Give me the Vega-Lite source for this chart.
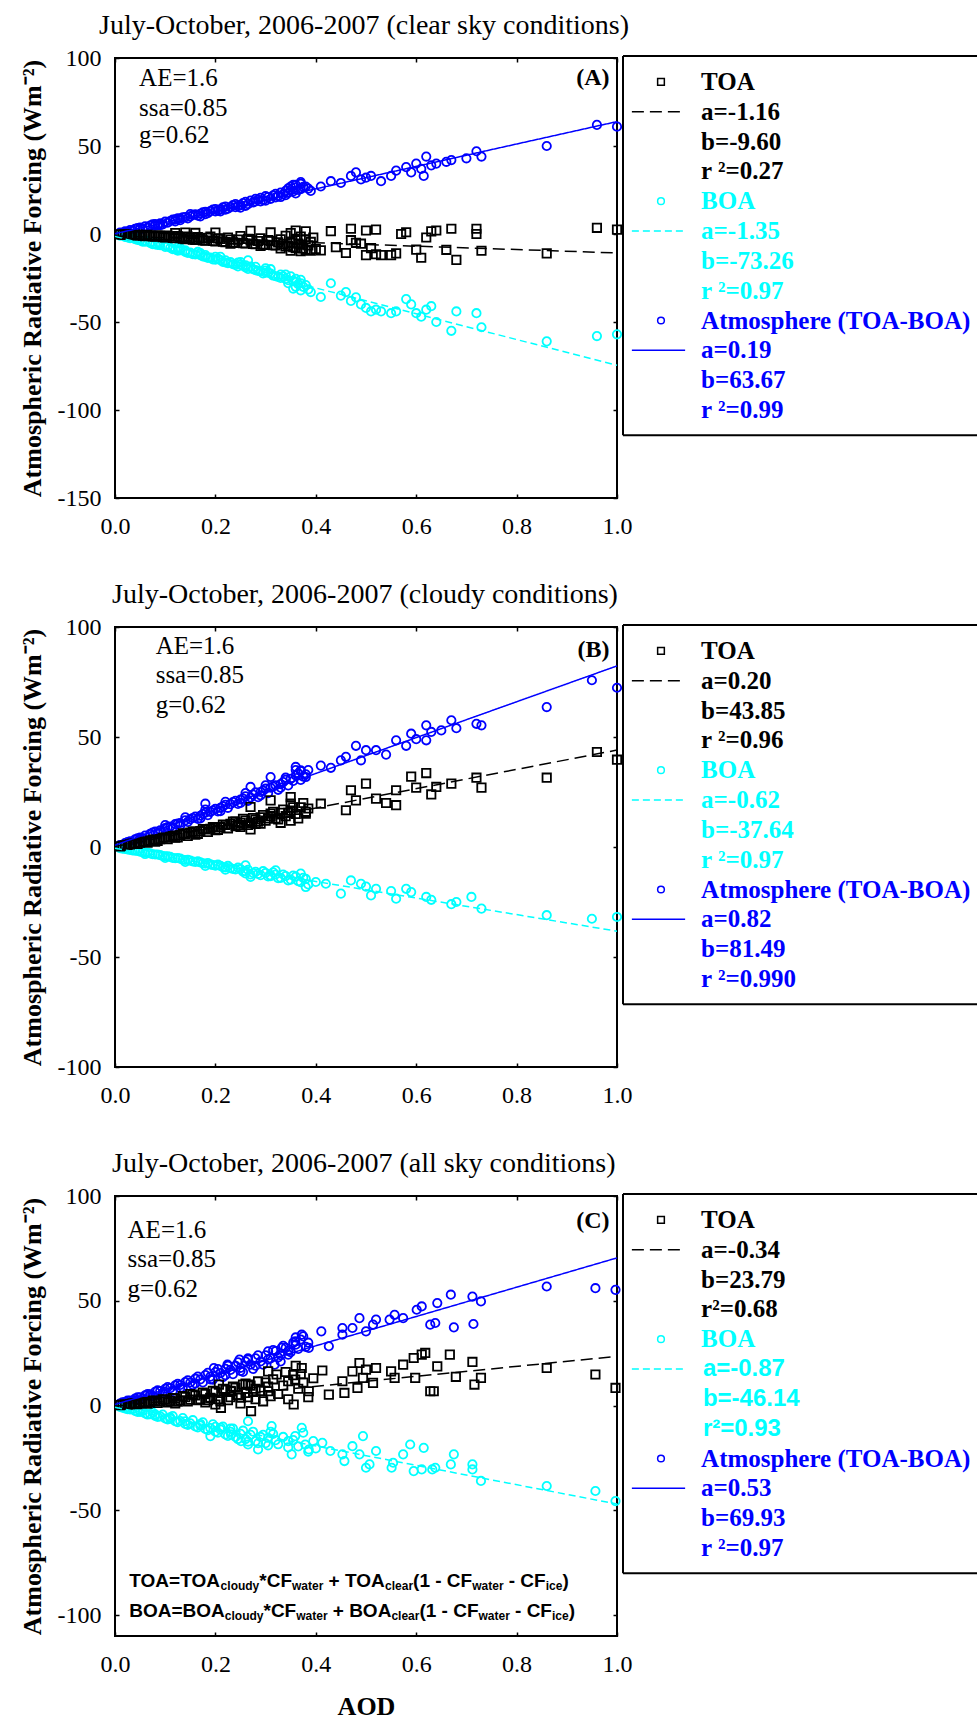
{
"$schema":"https://vega.github.io/schema/vega-lite/v6.json",
"background":"white",
"padding":{"left":18,"top":11,"right":0,"bottom":0},
"config":{
 "font":"Liberation Serif",
 "view":{"stroke":null},
 "axis":{"domain":false,"grid":false,"tickSize":-4,"tickColor":"black","tickWidth":1.5,"labelFont":"Liberation Serif","labelFontSize":24,"labelColor":"black","labelFlush":false,"labelOverlap":false,"labelBound":false,"titleFont":"Liberation Serif","titleFontSize":26,"titleFontWeight":"bold","titleColor":"black"},
 "title":{"font":"Liberation Serif","fontSize":28,"fontWeight":"normal","color":"black","anchor":"start","frame":"group","baseline":"alphabetic","offset":6},
 "point":{"filled":false,"strokeWidth":1.8,"size":70,"opacity":1}
},
"datasets":{
"ptA":[
{"g":"Atm","x":0.01,"y":0.8},{"g":"Atm","x":0.02,"y":1.5},{"g":"Atm","x":0.03,"y":2.2},{"g":"Atm","x":0.04,"y":2.9},{"g":"Atm","x":0.05,"y":3.6},{"g":"Atm","x":0.06,"y":4.3},{"g":"Atm","x":0.07,"y":4.8},{"g":"Atm","x":0.08,"y":5.6},{"g":"Atm","x":0.09,"y":6.1},{"g":"Atm","x":0.1,"y":7.0},{"g":"Atm","x":0.11,"y":7.4},{"g":"Atm","x":0.12,"y":8.3},{"g":"Atm","x":0.13,"y":8.8},{"g":"Atm","x":0.14,"y":9.6},{"g":"Atm","x":0.15,"y":10.0},{"g":"Atm","x":0.16,"y":11.2},{"g":"Atm","x":0.17,"y":11.5},{"g":"Atm","x":0.18,"y":12.6},{"g":"Atm","x":0.19,"y":13.0},{"g":"Atm","x":0.2,"y":14.2},{"g":"Atm","x":0.21,"y":14.0},{"g":"Atm","x":0.22,"y":15.6},{"g":"Atm","x":0.23,"y":15.3},{"g":"Atm","x":0.24,"y":17.0},{"g":"Atm","x":0.25,"y":16.4},{"g":"Atm","x":0.26,"y":18.3},{"g":"Atm","x":0.27,"y":19.0},{"g":"Atm","x":0.28,"y":18.5},{"g":"Atm","x":0.29,"y":20.6},{"g":"Atm","x":0.3,"y":21.5},{"g":"Atm","x":0.31,"y":20.0},{"g":"Atm","x":0.32,"y":22.8},{"g":"Atm","x":0.33,"y":23.5},{"g":"Atm","x":0.34,"y":22.0},{"g":"Atm","x":0.35,"y":25.0},{"g":"Atm","x":0.36,"y":26.5},{"g":"Atm","x":0.36,"y":23.0},{"g":"Atm","x":0.37,"y":28.5},{"g":"Atm","x":0.37,"y":25.5},{"g":"Atm","x":0.38,"y":27.0},{"g":"Atm","x":0.39,"y":24.5},
{"g":"Atm","x":0.015,"y":0.6},{"g":"Atm","x":0.035,"y":1.9},{"g":"Atm","x":0.05,"y":2.8},{"g":"Atm","x":0.065,"y":3.6},{"g":"Atm","x":0.08,"y":4.8},{"g":"Atm","x":0.095,"y":5.5},{"g":"Atm","x":0.12,"y":7.2},{"g":"Atm","x":0.135,"y":9.5},{"g":"Atm","x":0.15,"y":11.3},{"g":"Atm","x":0.165,"y":10.4},{"g":"Atm","x":0.18,"y":11.3},{"g":"Atm","x":0.2,"y":12.8},{"g":"Atm","x":0.22,"y":13.8},{"g":"Atm","x":0.24,"y":15.2},{"g":"Atm","x":0.26,"y":16.0},{"g":"Atm","x":0.28,"y":20.0},{"g":"Atm","x":0.3,"y":19.0},{"g":"Atm","x":0.33,"y":21.0},{"g":"Atm","x":0.345,"y":26.0},{"g":"Atm","x":0.355,"y":28.0},
{"g":"Atm","x":0.025,"y":1.3},{"g":"Atm","x":0.045,"y":3.4},{"g":"Atm","x":0.055,"y":3.0},{"g":"Atm","x":0.075,"y":5.5},{"g":"Atm","x":0.085,"y":5.0},{"g":"Atm","x":0.105,"y":6.4},{"g":"Atm","x":0.115,"y":8.2},{"g":"Atm","x":0.125,"y":8.9},{"g":"Atm","x":0.145,"y":8.9},{"g":"Atm","x":0.155,"y":10.8},{"g":"Atm","x":0.175,"y":12.3},{"g":"Atm","x":0.185,"y":11.8},{"g":"Atm","x":0.195,"y":13.9},{"g":"Atm","x":0.205,"y":13.3},{"g":"Atm","x":0.215,"y":15.1},{"g":"Atm","x":0.225,"y":14.4},{"g":"Atm","x":0.235,"y":16.4},{"g":"Atm","x":0.245,"y":15.8},{"g":"Atm","x":0.255,"y":17.6},{"g":"Atm","x":0.265,"y":17.0},{"g":"Atm","x":0.275,"y":18.0},{"g":"Atm","x":0.285,"y":19.6},{"g":"Atm","x":0.295,"y":19.2},{"g":"Atm","x":0.305,"y":21.0},{"g":"Atm","x":0.315,"y":22.0},{"g":"Atm","x":0.325,"y":21.5},{"g":"Atm","x":0.335,"y":22.6},{"g":"Atm","x":0.345,"y":23.4},{"g":"Atm","x":0.355,"y":24.2},{"g":"Atm","x":0.365,"y":25.0},{"g":"Atm","x":0.375,"y":26.8},{"g":"Atm","x":0.385,"y":25.8},{"g":"Atm","x":0.37,"y":29.5},{"g":"Atm","x":0.36,"y":28.0},{"g":"Atm","x":0.35,"y":27.0},{"g":"Atm","x":0.34,"y":24.5},{"g":"Atm","x":0.32,"y":20.8},{"g":"Atm","x":0.29,"y":18.5},{"g":"Atm","x":0.25,"y":15.0},{"g":"Atm","x":0.21,"y":12.8},{"g":"Atm","x":0.17,"y":10.0},{"g":"Atm","x":0.13,"y":7.8},{"g":"Atm","x":0.09,"y":5.0},
{"g":"Atm","x":0.41,"y":27},{"g":"Atm","x":0.43,"y":30},{"g":"Atm","x":0.45,"y":29},{"g":"Atm","x":0.47,"y":33},{"g":"Atm","x":0.48,"y":35},{"g":"Atm","x":0.49,"y":31},{"g":"Atm","x":0.5,"y":32},{"g":"Atm","x":0.51,"y":33},{"g":"Atm","x":0.53,"y":30},{"g":"Atm","x":0.55,"y":33},{"g":"Atm","x":0.56,"y":36},{"g":"Atm","x":0.58,"y":38},{"g":"Atm","x":0.59,"y":35},{"g":"Atm","x":0.6,"y":40},{"g":"Atm","x":0.61,"y":37},{"g":"Atm","x":0.615,"y":33},{"g":"Atm","x":0.62,"y":44},{"g":"Atm","x":0.63,"y":39},{"g":"Atm","x":0.64,"y":40},{"g":"Atm","x":0.66,"y":41},{"g":"Atm","x":0.67,"y":42},{"g":"Atm","x":0.7,"y":43},{"g":"Atm","x":0.72,"y":47},{"g":"Atm","x":0.73,"y":44},{"g":"Atm","x":0.86,"y":50},{"g":"Atm","x":0.96,"y":62},{"g":"Atm","x":1.0,"y":61},
{"g":"BOA","x":0.01,"y":-0.9},{"g":"BOA","x":0.02,"y":-1.6},{"g":"BOA","x":0.03,"y":-2.3},{"g":"BOA","x":0.04,"y":-3.0},{"g":"BOA","x":0.05,"y":-3.7},{"g":"BOA","x":0.06,"y":-4.4},{"g":"BOA","x":0.07,"y":-5.0},{"g":"BOA","x":0.08,"y":-5.9},{"g":"BOA","x":0.09,"y":-6.4},{"g":"BOA","x":0.1,"y":-7.3},{"g":"BOA","x":0.11,"y":-7.8},{"g":"BOA","x":0.12,"y":-8.8},{"g":"BOA","x":0.13,"y":-9.2},{"g":"BOA","x":0.14,"y":-10.2},{"g":"BOA","x":0.15,"y":-10.6},{"g":"BOA","x":0.16,"y":-11.6},{"g":"BOA","x":0.17,"y":-12.0},{"g":"BOA","x":0.18,"y":-13.0},{"g":"BOA","x":0.19,"y":-13.4},{"g":"BOA","x":0.2,"y":-14.6},{"g":"BOA","x":0.21,"y":-14.8},{"g":"BOA","x":0.22,"y":-16.2},{"g":"BOA","x":0.23,"y":-16.0},{"g":"BOA","x":0.24,"y":-17.6},{"g":"BOA","x":0.25,"y":-17.4},{"g":"BOA","x":0.26,"y":-19.0},{"g":"BOA","x":0.27,"y":-18.5},{"g":"BOA","x":0.28,"y":-20.5},{"g":"BOA","x":0.29,"y":-21.2},{"g":"BOA","x":0.3,"y":-22.0},{"g":"BOA","x":0.31,"y":-22.5},{"g":"BOA","x":0.32,"y":-24.0},{"g":"BOA","x":0.33,"y":-23.0},{"g":"BOA","x":0.34,"y":-25.5},{"g":"BOA","x":0.35,"y":-24.0},{"g":"BOA","x":0.36,"y":-27.0},{"g":"BOA","x":0.36,"y":-30.0},{"g":"BOA","x":0.37,"y":-26.0},{"g":"BOA","x":0.37,"y":-32.0},{"g":"BOA","x":0.38,"y":-29.0},{"g":"BOA","x":0.39,"y":-33.0},
{"g":"BOA","x":0.015,"y":-0.7},{"g":"BOA","x":0.045,"y":-2.6},{"g":"BOA","x":0.06,"y":-3.6},{"g":"BOA","x":0.085,"y":-4.8},{"g":"BOA","x":0.1,"y":-6.4},{"g":"BOA","x":0.125,"y":-7.6},{"g":"BOA","x":0.14,"y":-9.3},{"g":"BOA","x":0.165,"y":-10.2},{"g":"BOA","x":0.18,"y":-12.0},{"g":"BOA","x":0.2,"y":-13.0},{"g":"BOA","x":0.22,"y":-15.0},{"g":"BOA","x":0.245,"y":-16.2},{"g":"BOA","x":0.26,"y":-17.8},{"g":"BOA","x":0.28,"y":-18.6},{"g":"BOA","x":0.3,"y":-20.8},{"g":"BOA","x":0.33,"y":-25.0},{"g":"BOA","x":0.345,"y":-28.0},{"g":"BOA","x":0.355,"y":-31.0},{"g":"BOA","x":0.265,"y":-15.0},{"g":"BOA","x":0.31,"y":-20.0},
{"g":"BOA","x":0.025,"y":-1.9},{"g":"BOA","x":0.045,"y":-3.4},{"g":"BOA","x":0.055,"y":-4.4},{"g":"BOA","x":0.075,"y":-5.8},{"g":"BOA","x":0.085,"y":-6.2},{"g":"BOA","x":0.105,"y":-7.0},{"g":"BOA","x":0.115,"y":-8.6},{"g":"BOA","x":0.125,"y":-9.4},{"g":"BOA","x":0.145,"y":-10.8},{"g":"BOA","x":0.155,"y":-11.4},{"g":"BOA","x":0.175,"y":-12.8},{"g":"BOA","x":0.185,"y":-13.6},{"g":"BOA","x":0.195,"y":-14.4},{"g":"BOA","x":0.205,"y":-14.0},{"g":"BOA","x":0.215,"y":-15.8},{"g":"BOA","x":0.225,"y":-16.6},{"g":"BOA","x":0.235,"y":-17.2},{"g":"BOA","x":0.245,"y":-18.4},{"g":"BOA","x":0.255,"y":-18.0},{"g":"BOA","x":0.265,"y":-19.8},{"g":"BOA","x":0.275,"y":-20.0},{"g":"BOA","x":0.285,"y":-21.0},{"g":"BOA","x":0.295,"y":-22.4},{"g":"BOA","x":0.305,"y":-21.8},{"g":"BOA","x":0.315,"y":-23.6},{"g":"BOA","x":0.325,"y":-24.4},{"g":"BOA","x":0.335,"y":-24.0},{"g":"BOA","x":0.345,"y":-26.2},{"g":"BOA","x":0.355,"y":-26.8},{"g":"BOA","x":0.365,"y":-28.5},{"g":"BOA","x":0.375,"y":-30.0},{"g":"BOA","x":0.385,"y":-31.5},{"g":"BOA","x":0.37,"y":-28.0},{"g":"BOA","x":0.36,"y":-25.5},{"g":"BOA","x":0.34,"y":-23.0},{"g":"BOA","x":0.3,"y":-19.5},{"g":"BOA","x":0.25,"y":-16.0},{"g":"BOA","x":0.21,"y":-13.0},{"g":"BOA","x":0.17,"y":-10.8},{"g":"BOA","x":0.13,"y":-8.0},{"g":"BOA","x":0.09,"y":-5.2},
{"g":"BOA","x":0.41,"y":-35.8},{"g":"BOA","x":0.43,"y":-28},{"g":"BOA","x":0.45,"y":-35},{"g":"BOA","x":0.46,"y":-33},{"g":"BOA","x":0.47,"y":-38},{"g":"BOA","x":0.48,"y":-36},{"g":"BOA","x":0.49,"y":-40},{"g":"BOA","x":0.5,"y":-42},{"g":"BOA","x":0.51,"y":-44},{"g":"BOA","x":0.52,"y":-43},{"g":"BOA","x":0.53,"y":-44},{"g":"BOA","x":0.55,"y":-45},{"g":"BOA","x":0.56,"y":-44},{"g":"BOA","x":0.58,"y":-37},{"g":"BOA","x":0.59,"y":-40},{"g":"BOA","x":0.6,"y":-45},{"g":"BOA","x":0.61,"y":-47},{"g":"BOA","x":0.62,"y":-43},{"g":"BOA","x":0.63,"y":-41},{"g":"BOA","x":0.64,"y":-50},{"g":"BOA","x":0.67,"y":-55},{"g":"BOA","x":0.68,"y":-44},{"g":"BOA","x":0.72,"y":-45},{"g":"BOA","x":0.73,"y":-53},{"g":"BOA","x":0.86,"y":-61},{"g":"BOA","x":0.96,"y":-58},{"g":"BOA","x":1.0,"y":-57},
{"g":"TOA","x":0.01,"y":-0.2},{"g":"TOA","x":0.02,"y":-0.5},{"g":"TOA","x":0.03,"y":-0.3},{"g":"TOA","x":0.04,"y":-0.8},{"g":"TOA","x":0.05,"y":-0.6},{"g":"TOA","x":0.06,"y":-1.2},{"g":"TOA","x":0.07,"y":-0.9},{"g":"TOA","x":0.08,"y":-1.5},{"g":"TOA","x":0.09,"y":-1.0},{"g":"TOA","x":0.1,"y":-2.0},{"g":"TOA","x":0.11,"y":-1.3},{"g":"TOA","x":0.12,"y":-2.4},{"g":"TOA","x":0.12,"y":0.5},{"g":"TOA","x":0.13,"y":-1.8},{"g":"TOA","x":0.14,"y":-3.0},{"g":"TOA","x":0.14,"y":0.8},{"g":"TOA","x":0.15,"y":-2.2},{"g":"TOA","x":0.16,"y":-3.4},{"g":"TOA","x":0.16,"y":0.6},{"g":"TOA","x":0.17,"y":-2.6},{"g":"TOA","x":0.18,"y":-3.8},{"g":"TOA","x":0.19,"y":-1.5},{"g":"TOA","x":0.2,"y":-4.2},{"g":"TOA","x":0.2,"y":0.8},{"g":"TOA","x":0.21,"y":-2.8},{"g":"TOA","x":0.22,"y":-4.6},{"g":"TOA","x":0.23,"y":-3.2},{"g":"TOA","x":0.24,"y":-5.0},{"g":"TOA","x":0.25,"y":-1.2},{"g":"TOA","x":0.26,"y":-5.4},{"g":"TOA","x":0.27,"y":-3.6},{"g":"TOA","x":0.27,"y":1.8},{"g":"TOA","x":0.28,"y":-5.8},{"g":"TOA","x":0.29,"y":-2.5},{"g":"TOA","x":0.3,"y":-6.2},{"g":"TOA","x":0.31,"y":-4.0},{"g":"TOA","x":0.31,"y":0.9},{"g":"TOA","x":0.32,"y":-6.5},{"g":"TOA","x":0.33,"y":-3.0},{"g":"TOA","x":0.34,"y":-7.0},{"g":"TOA","x":0.35,"y":-5.0},{"g":"TOA","x":0.35,"y":0.5},{"g":"TOA","x":0.36,"y":-8.0},{"g":"TOA","x":0.36,"y":2.0},{"g":"TOA","x":0.37,"y":-6.0},{"g":"TOA","x":0.37,"y":-1.5},{"g":"TOA","x":0.38,"y":-9.0},{"g":"TOA","x":0.38,"y":1.5},{"g":"TOA","x":0.39,"y":-4.5},{"g":"TOA","x":0.4,"y":-8.5},
{"g":"TOA","x":0.23,"y":-5.5},{"g":"TOA","x":0.29,"y":-6.8},{"g":"TOA","x":0.33,"y":-8.2},{"g":"TOA","x":0.35,"y":-9.5},{"g":"TOA","x":0.37,"y":-9.8},{"g":"TOA","x":0.34,"y":-1.0},{"g":"TOA","x":0.36,"y":-3.5},
{"g":"TOA","x":0.015,"y":-0.4},{"g":"TOA","x":0.025,"y":-0.2},{"g":"TOA","x":0.035,"y":-0.7},{"g":"TOA","x":0.045,"y":-0.4},{"g":"TOA","x":0.055,"y":-1.0},{"g":"TOA","x":0.065,"y":-0.5},{"g":"TOA","x":0.075,"y":-1.4},{"g":"TOA","x":0.085,"y":-0.8},{"g":"TOA","x":0.095,"y":-1.8},{"g":"TOA","x":0.105,"y":-0.9},{"g":"TOA","x":0.115,"y":-2.2},{"g":"TOA","x":0.125,"y":-1.2},{"g":"TOA","x":0.135,"y":-2.6},{"g":"TOA","x":0.145,"y":-1.5},{"g":"TOA","x":0.155,"y":-3.2},{"g":"TOA","x":0.165,"y":-1.8},{"g":"TOA","x":0.175,"y":-3.6},{"g":"TOA","x":0.185,"y":-2.2},{"g":"TOA","x":0.195,"y":-4.0},{"g":"TOA","x":0.205,"y":-2.5},{"g":"TOA","x":0.215,"y":-4.4},{"g":"TOA","x":0.225,"y":-2.0},{"g":"TOA","x":0.235,"y":-4.8},{"g":"TOA","x":0.245,"y":-3.2},{"g":"TOA","x":0.255,"y":-5.2},{"g":"TOA","x":0.265,"y":-2.8},{"g":"TOA","x":0.275,"y":-5.6},{"g":"TOA","x":0.285,"y":-4.0},{"g":"TOA","x":0.295,"y":-6.0},{"g":"TOA","x":0.305,"y":-3.5},{"g":"TOA","x":0.315,"y":-6.4},{"g":"TOA","x":0.325,"y":-4.8},{"g":"TOA","x":0.335,"y":-5.6},{"g":"TOA","x":0.345,"y":-6.8},{"g":"TOA","x":0.355,"y":-7.5},{"g":"TOA","x":0.365,"y":-5.5},{"g":"TOA","x":0.375,"y":-8.2},{"g":"TOA","x":0.385,"y":-6.5},{"g":"TOA","x":0.395,"y":-2.0},{"g":"TOA","x":0.39,"y":-9.5},{"g":"TOA","x":0.38,"y":-3.0},
{"g":"TOA","x":0.41,"y":-9.3},{"g":"TOA","x":0.43,"y":1.6},{"g":"TOA","x":0.44,"y":-7.5},{"g":"TOA","x":0.46,"y":-10.8},{"g":"TOA","x":0.47,"y":-3.5},{"g":"TOA","x":0.47,"y":3},{"g":"TOA","x":0.48,"y":-5},{"g":"TOA","x":0.49,"y":-5.5},{"g":"TOA","x":0.5,"y":-12},{"g":"TOA","x":0.5,"y":2},{"g":"TOA","x":0.51,"y":-8},{"g":"TOA","x":0.52,"y":-11.5},{"g":"TOA","x":0.52,"y":2.5},{"g":"TOA","x":0.53,"y":-12},{"g":"TOA","x":0.55,"y":-12},{"g":"TOA","x":0.56,"y":-11},{"g":"TOA","x":0.57,"y":0},{"g":"TOA","x":0.58,"y":1},{"g":"TOA","x":0.6,"y":-8.9},{"g":"TOA","x":0.61,"y":-13.5},{"g":"TOA","x":0.62,"y":-2},{"g":"TOA","x":0.63,"y":1.5},{"g":"TOA","x":0.64,"y":2},{"g":"TOA","x":0.66,"y":-9},{"g":"TOA","x":0.67,"y":3},{"g":"TOA","x":0.68,"y":-14.7},{"g":"TOA","x":0.72,"y":3},{"g":"TOA","x":0.72,"y":0},{"g":"TOA","x":0.73,"y":-9.5},{"g":"TOA","x":0.86,"y":-11},{"g":"TOA","x":0.96,"y":3.5},{"g":"TOA","x":1.0,"y":2.5}
],
"ptB":[
{"g":"Atm","x":0.01,"y":0.9},{"g":"Atm","x":0.02,"y":1.8},{"g":"Atm","x":0.03,"y":2.6},{"g":"Atm","x":0.04,"y":3.5},{"g":"Atm","x":0.05,"y":4.3},{"g":"Atm","x":0.06,"y":5.2},{"g":"Atm","x":0.07,"y":6.0},{"g":"Atm","x":0.08,"y":7.0},{"g":"Atm","x":0.09,"y":7.6},{"g":"Atm","x":0.1,"y":8.6},{"g":"Atm","x":0.11,"y":9.3},{"g":"Atm","x":0.12,"y":10.4},{"g":"Atm","x":0.13,"y":10.9},{"g":"Atm","x":0.14,"y":12.1},{"g":"Atm","x":0.15,"y":12.6},{"g":"Atm","x":0.16,"y":13.8},{"g":"Atm","x":0.17,"y":14.2},{"g":"Atm","x":0.18,"y":15.6},{"g":"Atm","x":0.19,"y":16.0},{"g":"Atm","x":0.2,"y":17.3},{"g":"Atm","x":0.21,"y":17.8},{"g":"Atm","x":0.22,"y":19.2},{"g":"Atm","x":0.23,"y":19.5},{"g":"Atm","x":0.24,"y":21.0},{"g":"Atm","x":0.25,"y":21.6},{"g":"Atm","x":0.26,"y":23.0},{"g":"Atm","x":0.27,"y":22.5},{"g":"Atm","x":0.28,"y":24.8},{"g":"Atm","x":0.29,"y":25.0},{"g":"Atm","x":0.3,"y":26.5},{"g":"Atm","x":0.31,"y":27.0},{"g":"Atm","x":0.32,"y":28.0},{"g":"Atm","x":0.33,"y":28.6},{"g":"Atm","x":0.34,"y":30.5},{"g":"Atm","x":0.35,"y":31.0},{"g":"Atm","x":0.36,"y":32.5},{"g":"Atm","x":0.37,"y":34.5},{"g":"Atm","x":0.37,"y":30.5},{"g":"Atm","x":0.38,"y":33.0},
{"g":"Atm","x":0.05,"y":3.6},{"g":"Atm","x":0.09,"y":6.8},{"g":"Atm","x":0.13,"y":9.8},{"g":"Atm","x":0.17,"y":13.0},{"g":"Atm","x":0.21,"y":16.3},{"g":"Atm","x":0.25,"y":20.0},{"g":"Atm","x":0.29,"y":23.5},{"g":"Atm","x":0.33,"y":27.0},
{"g":"Atm","x":0.025,"y":2.2},{"g":"Atm","x":0.045,"y":3.9},{"g":"Atm","x":0.055,"y":4.0},{"g":"Atm","x":0.075,"y":6.5},{"g":"Atm","x":0.085,"y":6.3},{"g":"Atm","x":0.105,"y":9.0},{"g":"Atm","x":0.115,"y":8.8},{"g":"Atm","x":0.125,"y":10.7},{"g":"Atm","x":0.145,"y":11.4},{"g":"Atm","x":0.155,"y":13.2},{"g":"Atm","x":0.165,"y":12.8},{"g":"Atm","x":0.175,"y":15.0},{"g":"Atm","x":0.185,"y":14.5},{"g":"Atm","x":0.195,"y":16.6},{"g":"Atm","x":0.205,"y":16.2},{"g":"Atm","x":0.215,"y":18.5},{"g":"Atm","x":0.225,"y":17.8},{"g":"Atm","x":0.235,"y":20.4},{"g":"Atm","x":0.245,"y":19.6},{"g":"Atm","x":0.255,"y":22.0},{"g":"Atm","x":0.265,"y":21.0},{"g":"Atm","x":0.275,"y":23.8},{"g":"Atm","x":0.285,"y":22.6},{"g":"Atm","x":0.295,"y":25.6},{"g":"Atm","x":0.305,"y":24.5},{"g":"Atm","x":0.315,"y":27.5},{"g":"Atm","x":0.325,"y":26.0},{"g":"Atm","x":0.335,"y":29.5},{"g":"Atm","x":0.345,"y":28.0},{"g":"Atm","x":0.355,"y":30.0},{"g":"Atm","x":0.365,"y":33.5},{"g":"Atm","x":0.375,"y":32.0},{"g":"Atm","x":0.385,"y":35.0},{"g":"Atm","x":0.36,"y":35.0},{"g":"Atm","x":0.34,"y":31.5},{"g":"Atm","x":0.3,"y":28.0},{"g":"Atm","x":0.26,"y":24.5},{"g":"Atm","x":0.22,"y":20.5},{"g":"Atm","x":0.18,"y":17.0},{"g":"Atm","x":0.14,"y":13.5},{"g":"Atm","x":0.1,"y":10.0},
{"g":"Atm","x":0.18,"y":19.7},{"g":"Atm","x":0.27,"y":27.3},{"g":"Atm","x":0.31,"y":31.8},{"g":"Atm","x":0.36,"y":36.4},{"g":"Atm","x":0.37,"y":34.8},{"g":"Atm","x":0.38,"y":31.8},{"g":"Atm","x":0.41,"y":37},{"g":"Atm","x":0.43,"y":36},{"g":"Atm","x":0.45,"y":39.4},{"g":"Atm","x":0.46,"y":41},{"g":"Atm","x":0.48,"y":46},{"g":"Atm","x":0.49,"y":39.4},{"g":"Atm","x":0.5,"y":44},{"g":"Atm","x":0.52,"y":44},{"g":"Atm","x":0.54,"y":42},{"g":"Atm","x":0.56,"y":48.5},{"g":"Atm","x":0.58,"y":46},{"g":"Atm","x":0.59,"y":51.5},{"g":"Atm","x":0.6,"y":49},{"g":"Atm","x":0.62,"y":48.5},{"g":"Atm","x":0.62,"y":55.3},{"g":"Atm","x":0.63,"y":52.3},{"g":"Atm","x":0.65,"y":53},{"g":"Atm","x":0.67,"y":57.6},{"g":"Atm","x":0.68,"y":54},{"g":"Atm","x":0.72,"y":56},{"g":"Atm","x":0.73,"y":55.3},{"g":"Atm","x":0.86,"y":63.6},{"g":"Atm","x":0.95,"y":75.8},{"g":"Atm","x":1.0,"y":72.4},
{"g":"BOA","x":0.01,"y":-0.5},{"g":"BOA","x":0.02,"y":-0.9},{"g":"BOA","x":0.03,"y":-1.3},{"g":"BOA","x":0.04,"y":-1.7},{"g":"BOA","x":0.05,"y":-2.1},{"g":"BOA","x":0.06,"y":-2.5},{"g":"BOA","x":0.07,"y":-2.9},{"g":"BOA","x":0.08,"y":-3.4},{"g":"BOA","x":0.09,"y":-3.7},{"g":"BOA","x":0.1,"y":-4.2},{"g":"BOA","x":0.11,"y":-4.5},{"g":"BOA","x":0.12,"y":-5.1},{"g":"BOA","x":0.13,"y":-5.3},{"g":"BOA","x":0.14,"y":-5.9},{"g":"BOA","x":0.15,"y":-6.2},{"g":"BOA","x":0.16,"y":-6.8},{"g":"BOA","x":0.17,"y":-7.0},{"g":"BOA","x":0.18,"y":-7.6},{"g":"BOA","x":0.19,"y":-7.9},{"g":"BOA","x":0.2,"y":-8.5},{"g":"BOA","x":0.21,"y":-8.6},{"g":"BOA","x":0.22,"y":-9.3},{"g":"BOA","x":0.23,"y":-9.6},{"g":"BOA","x":0.24,"y":-10.2},{"g":"BOA","x":0.25,"y":-10.0},{"g":"BOA","x":0.26,"y":-11.0},{"g":"BOA","x":0.27,"y":-12.5},{"g":"BOA","x":0.28,"y":-11.3},{"g":"BOA","x":0.29,"y":-12.8},{"g":"BOA","x":0.3,"y":-11.8},{"g":"BOA","x":0.31,"y":-13.3},{"g":"BOA","x":0.32,"y":-12.5},{"g":"BOA","x":0.33,"y":-14.0},{"g":"BOA","x":0.34,"y":-13.2},{"g":"BOA","x":0.35,"y":-14.8},{"g":"BOA","x":0.36,"y":-13.5},{"g":"BOA","x":0.37,"y":-16.0},{"g":"BOA","x":0.38,"y":-14.5},
{"g":"BOA","x":0.06,"y":-3.2},{"g":"BOA","x":0.1,"y":-5.0},{"g":"BOA","x":0.14,"y":-6.8},{"g":"BOA","x":0.18,"y":-8.6},{"g":"BOA","x":0.22,"y":-10.3},{"g":"BOA","x":0.26,"y":-12.0},
{"g":"BOA","x":0.015,"y":-0.8},{"g":"BOA","x":0.025,"y":-1.1},{"g":"BOA","x":0.035,"y":-1.6},{"g":"BOA","x":0.045,"y":-1.8},{"g":"BOA","x":0.055,"y":-2.4},{"g":"BOA","x":0.065,"y":-2.6},{"g":"BOA","x":0.075,"y":-3.3},{"g":"BOA","x":0.085,"y":-3.4},{"g":"BOA","x":0.095,"y":-4.1},{"g":"BOA","x":0.105,"y":-4.2},{"g":"BOA","x":0.115,"y":-5.0},{"g":"BOA","x":0.125,"y":-5.0},{"g":"BOA","x":0.135,"y":-5.8},{"g":"BOA","x":0.145,"y":-5.8},{"g":"BOA","x":0.155,"y":-6.6},{"g":"BOA","x":0.165,"y":-6.5},{"g":"BOA","x":0.175,"y":-7.4},{"g":"BOA","x":0.185,"y":-7.3},{"g":"BOA","x":0.195,"y":-8.2},{"g":"BOA","x":0.205,"y":-8.0},{"g":"BOA","x":0.215,"y":-9.2},{"g":"BOA","x":0.225,"y":-8.6},{"g":"BOA","x":0.235,"y":-10.0},{"g":"BOA","x":0.245,"y":-9.4},{"g":"BOA","x":0.255,"y":-11.2},{"g":"BOA","x":0.265,"y":-10.4},{"g":"BOA","x":0.275,"y":-11.8},{"g":"BOA","x":0.285,"y":-12.2},{"g":"BOA","x":0.295,"y":-11.0},{"g":"BOA","x":0.305,"y":-13.4},{"g":"BOA","x":0.315,"y":-11.5},{"g":"BOA","x":0.325,"y":-14.2},{"g":"BOA","x":0.335,"y":-12.5},{"g":"BOA","x":0.345,"y":-15.2},{"g":"BOA","x":0.355,"y":-13.0},{"g":"BOA","x":0.365,"y":-15.5},{"g":"BOA","x":0.375,"y":-14.0},{"g":"BOA","x":0.385,"y":-17.0},
{"g":"BOA","x":0.26,"y":-8.3},{"g":"BOA","x":0.27,"y":-13.6},{"g":"BOA","x":0.31,"y":-12.9},{"g":"BOA","x":0.32,"y":-10.6},{"g":"BOA","x":0.37,"y":-12.1},{"g":"BOA","x":0.38,"y":-18.2},{"g":"BOA","x":0.4,"y":-15.9},{"g":"BOA","x":0.42,"y":-16.7},{"g":"BOA","x":0.45,"y":-21.2},{"g":"BOA","x":0.47,"y":-15.2},{"g":"BOA","x":0.49,"y":-16.7},{"g":"BOA","x":0.5,"y":-18},{"g":"BOA","x":0.51,"y":-22},{"g":"BOA","x":0.52,"y":-19},{"g":"BOA","x":0.55,"y":-20},{"g":"BOA","x":0.56,"y":-23.5},{"g":"BOA","x":0.58,"y":-19},{"g":"BOA","x":0.59,"y":-20.5},{"g":"BOA","x":0.62,"y":-22.7},{"g":"BOA","x":0.63,"y":-24},{"g":"BOA","x":0.67,"y":-26},{"g":"BOA","x":0.68,"y":-25},{"g":"BOA","x":0.71,"y":-22.7},{"g":"BOA","x":0.73,"y":-28},{"g":"BOA","x":0.86,"y":-31},{"g":"BOA","x":0.95,"y":-32.6},{"g":"BOA","x":1.0,"y":-31.8},
{"g":"TOA","x":0.01,"y":0.3},{"g":"TOA","x":0.02,"y":0.8},{"g":"TOA","x":0.03,"y":1.2},{"g":"TOA","x":0.04,"y":1.6},{"g":"TOA","x":0.05,"y":2.0},{"g":"TOA","x":0.06,"y":2.5},{"g":"TOA","x":0.07,"y":2.9},{"g":"TOA","x":0.08,"y":3.4},{"g":"TOA","x":0.09,"y":3.6},{"g":"TOA","x":0.1,"y":4.3},{"g":"TOA","x":0.11,"y":4.6},{"g":"TOA","x":0.12,"y":5.2},{"g":"TOA","x":0.13,"y":5.4},{"g":"TOA","x":0.14,"y":6.0},{"g":"TOA","x":0.15,"y":6.5},{"g":"TOA","x":0.16,"y":7.0},{"g":"TOA","x":0.17,"y":7.2},{"g":"TOA","x":0.18,"y":8.0},{"g":"TOA","x":0.19,"y":8.3},{"g":"TOA","x":0.2,"y":9.0},{"g":"TOA","x":0.21,"y":9.0},{"g":"TOA","x":0.22,"y":10.0},{"g":"TOA","x":0.23,"y":10.5},{"g":"TOA","x":0.24,"y":9.5},{"g":"TOA","x":0.25,"y":11.0},{"g":"TOA","x":0.26,"y":12.0},{"g":"TOA","x":0.27,"y":11.0},{"g":"TOA","x":0.28,"y":12.5},{"g":"TOA","x":0.29,"y":13.5},{"g":"TOA","x":0.3,"y":12.0},{"g":"TOA","x":0.31,"y":14.0},{"g":"TOA","x":0.32,"y":13.0},{"g":"TOA","x":0.33,"y":15.5},{"g":"TOA","x":0.34,"y":14.0},{"g":"TOA","x":0.35,"y":16.5},{"g":"TOA","x":0.36,"y":15.0},{"g":"TOA","x":0.37,"y":18.0},{"g":"TOA","x":0.38,"y":16.0},
{"g":"TOA","x":0.08,"y":2.4},{"g":"TOA","x":0.12,"y":4.2},{"g":"TOA","x":0.16,"y":5.6},{"g":"TOA","x":0.2,"y":7.6},{"g":"TOA","x":0.24,"y":11.5},{"g":"TOA","x":0.28,"y":10.5},
{"g":"TOA","x":0.015,"y":0.5},{"g":"TOA","x":0.025,"y":1.0},{"g":"TOA","x":0.035,"y":1.5},{"g":"TOA","x":0.045,"y":1.4},{"g":"TOA","x":0.055,"y":2.4},{"g":"TOA","x":0.065,"y":2.0},{"g":"TOA","x":0.075,"y":3.3},{"g":"TOA","x":0.085,"y":2.8},{"g":"TOA","x":0.095,"y":4.2},{"g":"TOA","x":0.105,"y":3.6},{"g":"TOA","x":0.115,"y":5.0},{"g":"TOA","x":0.125,"y":4.4},{"g":"TOA","x":0.135,"y":6.2},{"g":"TOA","x":0.145,"y":5.0},{"g":"TOA","x":0.155,"y":7.0},{"g":"TOA","x":0.165,"y":6.0},{"g":"TOA","x":0.175,"y":8.2},{"g":"TOA","x":0.185,"y":6.8},{"g":"TOA","x":0.195,"y":9.0},{"g":"TOA","x":0.205,"y":7.8},{"g":"TOA","x":0.215,"y":10.2},{"g":"TOA","x":0.225,"y":8.5},{"g":"TOA","x":0.235,"y":11.5},{"g":"TOA","x":0.245,"y":10.0},{"g":"TOA","x":0.255,"y":12.8},{"g":"TOA","x":0.265,"y":10.0},{"g":"TOA","x":0.275,"y":13.2},{"g":"TOA","x":0.285,"y":11.5},{"g":"TOA","x":0.295,"y":14.5},{"g":"TOA","x":0.305,"y":13.0},{"g":"TOA","x":0.315,"y":16.0},{"g":"TOA","x":0.325,"y":12.5},{"g":"TOA","x":0.335,"y":17.0},{"g":"TOA","x":0.345,"y":15.5},{"g":"TOA","x":0.355,"y":18.0},{"g":"TOA","x":0.365,"y":13.0},{"g":"TOA","x":0.375,"y":20.0},{"g":"TOA","x":0.385,"y":17.5},{"g":"TOA","x":0.33,"y":11.0},{"g":"TOA","x":0.27,"y":8.0},
{"g":"TOA","x":0.25,"y":9.1},{"g":"TOA","x":0.27,"y":18.2},{"g":"TOA","x":0.29,"y":10.6},{"g":"TOA","x":0.31,"y":21.2},{"g":"TOA","x":0.31,"y":15.2},{"g":"TOA","x":0.35,"y":22.7},{"g":"TOA","x":0.35,"y":19.7},{"g":"TOA","x":0.35,"y":12},{"g":"TOA","x":0.38,"y":15.2},{"g":"TOA","x":0.41,"y":19.7},{"g":"TOA","x":0.46,"y":16.7},{"g":"TOA","x":0.47,"y":25.8},{"g":"TOA","x":0.48,"y":21.2},{"g":"TOA","x":0.5,"y":28.8},{"g":"TOA","x":0.52,"y":22},{"g":"TOA","x":0.54,"y":20},{"g":"TOA","x":0.56,"y":25.8},{"g":"TOA","x":0.56,"y":19},{"g":"TOA","x":0.59,"y":32},{"g":"TOA","x":0.6,"y":27},{"g":"TOA","x":0.62,"y":33.6},{"g":"TOA","x":0.63,"y":23.9},{"g":"TOA","x":0.64,"y":27.3},{"g":"TOA","x":0.67,"y":28.8},{"g":"TOA","x":0.72,"y":31.5},{"g":"TOA","x":0.73,"y":27},{"g":"TOA","x":0.86,"y":31.5},{"g":"TOA","x":0.96,"y":43.2},{"g":"TOA","x":1.0,"y":39.7}
],
"ptC":[
{"g":"Atm","x":0.01,"y":0.9},{"g":"Atm","x":0.02,"y":1.7},{"g":"Atm","x":0.03,"y":2.4},{"g":"Atm","x":0.04,"y":3.3},{"g":"Atm","x":0.05,"y":3.9},{"g":"Atm","x":0.06,"y":4.9},{"g":"Atm","x":0.07,"y":5.4},{"g":"Atm","x":0.08,"y":6.5},{"g":"Atm","x":0.09,"y":6.9},{"g":"Atm","x":0.1,"y":8.0},{"g":"Atm","x":0.11,"y":8.3},{"g":"Atm","x":0.12,"y":9.6},{"g":"Atm","x":0.13,"y":9.8},{"g":"Atm","x":0.14,"y":11.2},{"g":"Atm","x":0.15,"y":11.0},{"g":"Atm","x":0.16,"y":12.8},{"g":"Atm","x":0.17,"y":12.5},{"g":"Atm","x":0.18,"y":14.5},{"g":"Atm","x":0.19,"y":13.8},{"g":"Atm","x":0.2,"y":16.0},{"g":"Atm","x":0.21,"y":15.5},{"g":"Atm","x":0.22,"y":17.5},{"g":"Atm","x":0.23,"y":17.0},{"g":"Atm","x":0.24,"y":19.0},{"g":"Atm","x":0.25,"y":18.0},{"g":"Atm","x":0.26,"y":21.0},{"g":"Atm","x":0.27,"y":19.5},{"g":"Atm","x":0.28,"y":22.5},{"g":"Atm","x":0.29,"y":21.0},{"g":"Atm","x":0.3,"y":24.0},{"g":"Atm","x":0.31,"y":22.5},{"g":"Atm","x":0.32,"y":26.0},{"g":"Atm","x":0.33,"y":24.0},{"g":"Atm","x":0.34,"y":27.5},{"g":"Atm","x":0.35,"y":25.5},{"g":"Atm","x":0.36,"y":29.0},{"g":"Atm","x":0.37,"y":31.5},{"g":"Atm","x":0.38,"y":28.0},
{"g":"Atm","x":0.04,"y":2.5},{"g":"Atm","x":0.07,"y":4.6},{"g":"Atm","x":0.1,"y":6.5},{"g":"Atm","x":0.13,"y":8.3},{"g":"Atm","x":0.16,"y":10.5},{"g":"Atm","x":0.19,"y":12.5},{"g":"Atm","x":0.22,"y":14.5},{"g":"Atm","x":0.25,"y":16.5},{"g":"Atm","x":0.28,"y":19.0},
{"g":"Atm","x":0.015,"y":1.5},{"g":"Atm","x":0.025,"y":2.3},{"g":"Atm","x":0.035,"y":2.0},{"g":"Atm","x":0.045,"y":3.9},{"g":"Atm","x":0.055,"y":3.2},{"g":"Atm","x":0.065,"y":5.5},{"g":"Atm","x":0.075,"y":4.5},{"g":"Atm","x":0.085,"y":7.2},{"g":"Atm","x":0.095,"y":6.0},{"g":"Atm","x":0.105,"y":8.8},{"g":"Atm","x":0.115,"y":7.0},{"g":"Atm","x":0.125,"y":10.4},{"g":"Atm","x":0.135,"y":8.5},{"g":"Atm","x":0.145,"y":12.0},{"g":"Atm","x":0.155,"y":9.8},{"g":"Atm","x":0.165,"y":13.8},{"g":"Atm","x":0.175,"y":11.0},{"g":"Atm","x":0.185,"y":15.6},{"g":"Atm","x":0.195,"y":12.4},{"g":"Atm","x":0.205,"y":17.4},{"g":"Atm","x":0.215,"y":13.5},{"g":"Atm","x":0.225,"y":19.0},{"g":"Atm","x":0.235,"y":15.0},{"g":"Atm","x":0.245,"y":20.6},{"g":"Atm","x":0.255,"y":16.0},{"g":"Atm","x":0.265,"y":22.5},{"g":"Atm","x":0.275,"y":17.5},{"g":"Atm","x":0.285,"y":24.0},{"g":"Atm","x":0.295,"y":19.5},{"g":"Atm","x":0.305,"y":22.0},{"g":"Atm","x":0.315,"y":26.5},{"g":"Atm","x":0.325,"y":23.0},{"g":"Atm","x":0.335,"y":28.5},{"g":"Atm","x":0.345,"y":26.0},{"g":"Atm","x":0.355,"y":30.0},{"g":"Atm","x":0.365,"y":27.0},{"g":"Atm","x":0.375,"y":33.0},{"g":"Atm","x":0.385,"y":30.0},{"g":"Atm","x":0.33,"y":21.0},{"g":"Atm","x":0.36,"y":32.5},
{"g":"Atm","x":0.86,"y":56.8},{"g":"Atm","x":0.957,"y":56},{"g":"Atm","x":0.997,"y":55.2},{"g":"Atm","x":0.729,"y":49.7},{"g":"Atm","x":0.712,"y":52},{"g":"Atm","x":0.669,"y":52.9},{"g":"Atm","x":0.642,"y":48.9},{"g":"Atm","x":0.611,"y":47.3},{"g":"Atm","x":0.601,"y":45.7},{"g":"Atm","x":0.628,"y":38.6},{"g":"Atm","x":0.638,"y":39.4},{"g":"Atm","x":0.675,"y":37.3},{"g":"Atm","x":0.714,"y":38.9},{"g":"Atm","x":0.574,"y":41.7},{"g":"Atm","x":0.557,"y":43.3},{"g":"Atm","x":0.547,"y":41},{"g":"Atm","x":0.52,"y":41},{"g":"Atm","x":0.514,"y":38.6},{"g":"Atm","x":0.5,"y":35.4},{"g":"Atm","x":0.487,"y":41.7},{"g":"Atm","x":0.473,"y":37},{"g":"Atm","x":0.453,"y":37},{"g":"Atm","x":0.453,"y":33.8},{"g":"Atm","x":0.426,"y":28.3},{"g":"Atm","x":0.411,"y":35.4},{"g":"Atm","x":0.386,"y":27.5},{"g":"Atm","x":0.372,"y":33.8},{"g":"Atm","x":0.359,"y":30.6},{"g":"Atm","x":0.345,"y":24.3},{"g":"Atm","x":0.332,"y":27.5},{"g":"Atm","x":0.318,"y":19.5},{"g":"Atm","x":0.305,"y":25.9},{"g":"Atm","x":0.265,"y":21.9},{"g":"Atm","x":0.248,"y":21.9},{"g":"Atm","x":0.224,"y":19.5},{"g":"Atm","x":0.197,"y":17.9},
{"g":"BOA","x":0.01,"y":-0.7},{"g":"BOA","x":0.02,"y":-1.4},{"g":"BOA","x":0.03,"y":-1.9},{"g":"BOA","x":0.04,"y":-2.6},{"g":"BOA","x":0.05,"y":-3.0},{"g":"BOA","x":0.06,"y":-3.8},{"g":"BOA","x":0.07,"y":-4.1},{"g":"BOA","x":0.08,"y":-5.0},{"g":"BOA","x":0.09,"y":-5.2},{"g":"BOA","x":0.1,"y":-6.2},{"g":"BOA","x":0.11,"y":-6.3},{"g":"BOA","x":0.12,"y":-7.5},{"g":"BOA","x":0.13,"y":-7.4},{"g":"BOA","x":0.14,"y":-8.8},{"g":"BOA","x":0.15,"y":-8.5},{"g":"BOA","x":0.16,"y":-10.0},{"g":"BOA","x":0.17,"y":-9.6},{"g":"BOA","x":0.18,"y":-11.2},{"g":"BOA","x":0.19,"y":-10.8},{"g":"BOA","x":0.2,"y":-12.5},{"g":"BOA","x":0.21,"y":-11.5},{"g":"BOA","x":0.22,"y":-13.8},{"g":"BOA","x":0.23,"y":-12.5},{"g":"BOA","x":0.24,"y":-15.0},{"g":"BOA","x":0.25,"y":-13.5},{"g":"BOA","x":0.26,"y":-16.0},{"g":"BOA","x":0.27,"y":-14.0},{"g":"BOA","x":0.28,"y":-17.0},{"g":"BOA","x":0.29,"y":-15.0},{"g":"BOA","x":0.3,"y":-18.0},{"g":"BOA","x":0.31,"y":-12.5},{"g":"BOA","x":0.32,"y":-16.5},
{"g":"BOA","x":0.05,"y":-2.4},{"g":"BOA","x":0.08,"y":-4.2},{"g":"BOA","x":0.11,"y":-5.6},{"g":"BOA","x":0.14,"y":-7.5},{"g":"BOA","x":0.17,"y":-8.8},{"g":"BOA","x":0.2,"y":-10.2},{"g":"BOA","x":0.23,"y":-11.0},
{"g":"BOA","x":0.015,"y":-1.0},{"g":"BOA","x":0.025,"y":-1.7},{"g":"BOA","x":0.035,"y":-1.6},{"g":"BOA","x":0.045,"y":-3.1},{"g":"BOA","x":0.055,"y":-2.6},{"g":"BOA","x":0.065,"y":-4.3},{"g":"BOA","x":0.075,"y":-3.4},{"g":"BOA","x":0.085,"y":-5.4},{"g":"BOA","x":0.095,"y":-4.3},{"g":"BOA","x":0.105,"y":-6.6},{"g":"BOA","x":0.115,"y":-5.0},{"g":"BOA","x":0.125,"y":-7.9},{"g":"BOA","x":0.135,"y":-6.0},{"g":"BOA","x":0.145,"y":-9.2},{"g":"BOA","x":0.155,"y":-7.0},{"g":"BOA","x":0.165,"y":-10.5},{"g":"BOA","x":0.175,"y":-8.0},{"g":"BOA","x":0.185,"y":-11.8},{"g":"BOA","x":0.195,"y":-9.0},{"g":"BOA","x":0.205,"y":-13.0},{"g":"BOA","x":0.215,"y":-10.0},{"g":"BOA","x":0.225,"y":-14.5},{"g":"BOA","x":0.235,"y":-11.0},{"g":"BOA","x":0.245,"y":-16.0},{"g":"BOA","x":0.255,"y":-12.0},{"g":"BOA","x":0.265,"y":-17.2},{"g":"BOA","x":0.275,"y":-12.5},{"g":"BOA","x":0.285,"y":-18.0},{"g":"BOA","x":0.295,"y":-14.0},{"g":"BOA","x":0.305,"y":-19.0},{"g":"BOA","x":0.315,"y":-13.5},{"g":"BOA","x":0.325,"y":-18.5},{"g":"BOA","x":0.335,"y":-15.0},{"g":"BOA","x":0.345,"y":-20.0},{"g":"BOA","x":0.355,"y":-16.5},{"g":"BOA","x":0.365,"y":-19.5},{"g":"BOA","x":0.375,"y":-13.0},{"g":"BOA","x":0.385,"y":-22.0},{"g":"BOA","x":0.395,"y":-17.0},{"g":"BOA","x":0.4,"y":-20.5},
{"g":"BOA","x":0.997,"y":-45.6},{"g":"BOA","x":0.957,"y":-40.8},{"g":"BOA","x":0.86,"y":-38.4},{"g":"BOA","x":0.729,"y":-36},{"g":"BOA","x":0.712,"y":-28.1},{"g":"BOA","x":0.712,"y":-30.5},{"g":"BOA","x":0.675,"y":-23.3},{"g":"BOA","x":0.669,"y":-28.1},{"g":"BOA","x":0.638,"y":-29.7},{"g":"BOA","x":0.632,"y":-30.5},{"g":"BOA","x":0.615,"y":-20.2},{"g":"BOA","x":0.611,"y":-30.5},{"g":"BOA","x":0.595,"y":-31.3},{"g":"BOA","x":0.588,"y":-18.6},{"g":"BOA","x":0.574,"y":-23.3},{"g":"BOA","x":0.554,"y":-27.3},{"g":"BOA","x":0.551,"y":-29.7},{"g":"BOA","x":0.52,"y":-21.7},{"g":"BOA","x":0.507,"y":-28.1},{"g":"BOA","x":0.5,"y":-29.7},{"g":"BOA","x":0.494,"y":-14.6},{"g":"BOA","x":0.487,"y":-23.3},{"g":"BOA","x":0.473,"y":-19.4},{"g":"BOA","x":0.457,"y":-26.5},{"g":"BOA","x":0.453,"y":-23.3},{"g":"BOA","x":0.429,"y":-21.7},{"g":"BOA","x":0.413,"y":-17.8},{"g":"BOA","x":0.386,"y":-21},{"g":"BOA","x":0.379,"y":-18.6},{"g":"BOA","x":0.372,"y":-10.6},{"g":"BOA","x":0.359,"y":-14.6},{"g":"BOA","x":0.352,"y":-23.3},{"g":"BOA","x":0.345,"y":-17},{"g":"BOA","x":0.312,"y":-9.8},{"g":"BOA","x":0.305,"y":-15.4},{"g":"BOA","x":0.285,"y":-21},{"g":"BOA","x":0.265,"y":-18.6},{"g":"BOA","x":0.265,"y":-7.5},{"g":"BOA","x":0.251,"y":-17},{"g":"BOA","x":0.231,"y":-13.8},{"g":"BOA","x":0.211,"y":-10.6},{"g":"BOA","x":0.19,"y":-14.6},
{"g":"TOA","x":0.01,"y":0.2},{"g":"TOA","x":0.02,"y":0.5},{"g":"TOA","x":0.03,"y":0.7},{"g":"TOA","x":0.04,"y":1.0},{"g":"TOA","x":0.05,"y":1.2},{"g":"TOA","x":0.06,"y":1.6},{"g":"TOA","x":0.07,"y":1.7},{"g":"TOA","x":0.08,"y":2.2},{"g":"TOA","x":0.09,"y":2.0},{"g":"TOA","x":0.1,"y":2.8},{"g":"TOA","x":0.11,"y":2.2},{"g":"TOA","x":0.12,"y":3.4},{"g":"TOA","x":0.13,"y":2.5},{"g":"TOA","x":0.14,"y":4.0},{"g":"TOA","x":0.15,"y":2.8},{"g":"TOA","x":0.16,"y":4.8},{"g":"TOA","x":0.17,"y":3.0},{"g":"TOA","x":0.18,"y":5.5},{"g":"TOA","x":0.19,"y":3.5},{"g":"TOA","x":0.2,"y":6.5},{"g":"TOA","x":0.21,"y":2.0},{"g":"TOA","x":0.22,"y":7.5},{"g":"TOA","x":0.23,"y":4.0},{"g":"TOA","x":0.24,"y":8.5},{"g":"TOA","x":0.25,"y":1.0},{"g":"TOA","x":0.26,"y":6.0},{"g":"TOA","x":0.27,"y":9.5},{"g":"TOA","x":0.28,"y":3.0},{"g":"TOA","x":0.29,"y":7.0},{"g":"TOA","x":0.3,"y":11.0},{"g":"TOA","x":0.31,"y":4.5},
{"g":"TOA","x":0.12,"y":1.0},{"g":"TOA","x":0.15,"y":5.5},{"g":"TOA","x":0.18,"y":1.5},{"g":"TOA","x":0.2,"y":0.5},{"g":"TOA","x":0.23,"y":7.0},{"g":"TOA","x":0.26,"y":10.5},{"g":"TOA","x":0.28,"y":8.0},
{"g":"TOA","x":0.015,"y":0.4},{"g":"TOA","x":0.025,"y":0.3},{"g":"TOA","x":0.035,"y":1.0},{"g":"TOA","x":0.045,"y":0.6},{"g":"TOA","x":0.055,"y":1.6},{"g":"TOA","x":0.065,"y":0.9},{"g":"TOA","x":0.075,"y":2.3},{"g":"TOA","x":0.085,"y":1.2},{"g":"TOA","x":0.095,"y":3.0},{"g":"TOA","x":0.105,"y":1.5},{"g":"TOA","x":0.115,"y":3.6},{"g":"TOA","x":0.125,"y":1.8},{"g":"TOA","x":0.135,"y":4.5},{"g":"TOA","x":0.145,"y":2.0},{"g":"TOA","x":0.155,"y":5.2},{"g":"TOA","x":0.165,"y":2.5},{"g":"TOA","x":0.175,"y":6.2},{"g":"TOA","x":0.185,"y":2.5},{"g":"TOA","x":0.195,"y":7.0},{"g":"TOA","x":0.205,"y":3.0},{"g":"TOA","x":0.215,"y":8.0},{"g":"TOA","x":0.225,"y":2.5},{"g":"TOA","x":0.235,"y":9.0},{"g":"TOA","x":0.245,"y":5.0},{"g":"TOA","x":0.255,"y":10.0},{"g":"TOA","x":0.265,"y":4.0},{"g":"TOA","x":0.275,"y":6.5},{"g":"TOA","x":0.285,"y":11.5},{"g":"TOA","x":0.295,"y":2.0},{"g":"TOA","x":0.305,"y":9.0},{"g":"TOA","x":0.315,"y":12.5},{"g":"TOA","x":0.325,"y":5.5},{"g":"TOA","x":0.335,"y":9.5},{"g":"TOA","x":0.345,"y":3.0},{"g":"TOA","x":0.355,"y":14.5},{"g":"TOA","x":0.365,"y":8.0},{"g":"TOA","x":0.375,"y":11.0},{"g":"TOA","x":0.385,"y":4.0},{"g":"TOA","x":0.395,"y":13.0},{"g":"TOA","x":0.34,"y":16.0},
{"g":"TOA","x":0.997,"y":8.4},{"g":"TOA","x":0.957,"y":14.8},{"g":"TOA","x":0.86,"y":17.9},{"g":"TOA","x":0.729,"y":13.2},{"g":"TOA","x":0.716,"y":10},{"g":"TOA","x":0.712,"y":20.8},{"g":"TOA","x":0.679,"y":13.7},{"g":"TOA","x":0.667,"y":24.3},{"g":"TOA","x":0.642,"y":18.7},{"g":"TOA","x":0.635,"y":6.8},{"g":"TOA","x":0.628,"y":6.8},{"g":"TOA","x":0.618,"y":25.1},{"g":"TOA","x":0.611,"y":24.3},{"g":"TOA","x":0.595,"y":22.7},{"g":"TOA","x":0.598,"y":13.2},{"g":"TOA","x":0.557,"y":13.2},{"g":"TOA","x":0.574,"y":19.5},{"g":"TOA","x":0.55,"y":16.3},{"g":"TOA","x":0.52,"y":17.9},{"g":"TOA","x":0.514,"y":10.8},{"g":"TOA","x":0.5,"y":17.1},{"g":"TOA","x":0.494,"y":13.2},{"g":"TOA","x":0.487,"y":20.3},{"g":"TOA","x":0.483,"y":8.4},{"g":"TOA","x":0.473,"y":16.3},{"g":"TOA","x":0.457,"y":6},{"g":"TOA","x":0.453,"y":11.6},{"g":"TOA","x":0.426,"y":5.2},{"g":"TOA","x":0.413,"y":16.7},{"g":"TOA","x":0.386,"y":6.8},{"g":"TOA","x":0.372,"y":17.9},{"g":"TOA","x":0.359,"y":12.4},{"g":"TOA","x":0.356,"y":0.5},{"g":"TOA","x":0.345,"y":11.6},{"g":"TOA","x":0.322,"y":14.8},{"g":"TOA","x":0.305,"y":16.3},{"g":"TOA","x":0.305,"y":6.8},{"g":"TOA","x":0.271,"y":-2.7},{"g":"TOA","x":0.265,"y":10},{"g":"TOA","x":0.251,"y":3.7},{"g":"TOA","x":0.231,"y":6.8},{"g":"TOA","x":0.211,"y":-1.1},{"g":"TOA","x":0.207,"y":10},{"g":"TOA","x":0.19,"y":3.7},{"g":"TOA","x":0.36,"y":19},{"g":"TOA","x":0.37,"y":15}
],
"ln":[
{"p":"A","g":"TOA","x":0,"y":-1.16},{"p":"A","g":"TOA","x":1,"y":-10.76},{"p":"A","g":"BOA","x":0,"y":-1.35},{"p":"A","g":"BOA","x":1,"y":-74.61},{"p":"A","g":"Atm","x":0,"y":0.19},{"p":"A","g":"Atm","x":1,"y":63.86},
{"p":"B","g":"TOA","x":0,"y":0.20},{"p":"B","g":"TOA","x":1,"y":44.05},{"p":"B","g":"BOA","x":0,"y":-0.62},{"p":"B","g":"BOA","x":1,"y":-38.26},{"p":"B","g":"Atm","x":0,"y":0.82},{"p":"B","g":"Atm","x":1,"y":82.31},
{"p":"C","g":"TOA","x":0,"y":-0.34},{"p":"C","g":"TOA","x":1,"y":23.45},{"p":"C","g":"BOA","x":0,"y":-0.87},{"p":"C","g":"BOA","x":1,"y":-47.01},{"p":"C","g":"Atm","x":0,"y":0.53},{"p":"C","g":"Atm","x":1,"y":70.46}
],
"ann":[
{"p":"A","x":0.048,"y":88.6,"t":"AE=1.6"},{"p":"A","x":0.048,"y":71.6,"t":"ssa=0.85"},{"p":"A","x":0.048,"y":56.2,"t":"g=0.62"},
{"p":"B","x":0.081,"y":91.4,"t":"AE=1.6"},{"p":"B","x":0.081,"y":78.2,"t":"ssa=0.85"},{"p":"B","x":0.081,"y":64.6,"t":"g=0.62"},
{"p":"C","x":0.025,"y":83.7,"t":"AE=1.6"},{"p":"C","x":0.025,"y":69.9,"t":"ssa=0.85"},{"p":"C","x":0.025,"y":55.5,"t":"g=0.62"}
],
"lab":[
{"p":"A","x":0.985,"y":88.6,"t":"(A)"},{"p":"B","x":0.985,"y":89.6,"t":"(B)"},{"p":"C","x":0.985,"y":88,"t":"(C)"}
],
"eqm":[
{"x":0.0285,"y":-83.7,"t":"TOA=TOA"},{"x":0.2875,"y":-83.7,"t":"*CF"},{"x":0.4254,"y":-83.7,"t":"+ TOA"},{"x":0.5938,"y":-83.7,"t":"(1 - CF"},{"x":0.7844,"y":-83.7,"t":"- CF"},{"x":0.8912,"y":-83.7,"t":")"},
{"x":0.0285,"y":-98,"t":"BOA=BOA"},{"x":0.2958,"y":-98,"t":"*CF"},{"x":0.4338,"y":-98,"t":"+ BOA"},{"x":0.6064,"y":-98,"t":"(1 - CF"},{"x":0.7969,"y":-98,"t":"- CF"},{"x":0.9038,"y":-98,"t":")"}
],
"eqs":[
{"x":0.2104,"y":-83.7,"t":"cloudy"},{"x":0.3526,"y":-83.7,"t":"water"},{"x":0.538,"y":-83.7,"t":"clear"},{"x":0.7116,"y":-83.7,"t":"water"},{"x":0.858,"y":-83.7,"t":"ice"},
{"x":0.2187,"y":-98,"t":"cloudy"},{"x":0.361,"y":-98,"t":"water"},{"x":0.5506,"y":-98,"t":"clear"},{"x":0.7241,"y":-98,"t":"water"},{"x":0.8705,"y":-98,"t":"ice"}
],
"box":[
{"x1":0,"x2":1,"y1":0.13,"y2":0.13},{"x1":0,"x2":1,"y1":12.85,"y2":12.85},{"x1":0,"x2":0,"y1":0.13,"y2":12.85}
],
"lgs":[{"g":"TOA","r":1},{"g":"BOA","r":5},{"g":"Atm","r":9}],
"lgl":[{"g":"TOA","r":2},{"g":"BOA","r":6},{"g":"Atm","r":10}],
"lg":[
{"p":"A","g":"TOA","r":1,"t":"TOA"},{"p":"A","g":"TOA","r":2,"t":"a=-1.16"},{"p":"A","g":"TOA","r":3,"t":"b=-9.60"},{"p":"A","g":"TOA","r":4,"t":"r ²=0.27"},
{"p":"A","g":"BOA","r":5,"t":"BOA"},{"p":"A","g":"BOA","r":6,"t":"a=-1.35"},{"p":"A","g":"BOA","r":7,"t":"b=-73.26"},{"p":"A","g":"BOA","r":8,"t":"r ²=0.97"},
{"p":"A","g":"Atm","r":9,"t":"Atmosphere (TOA-BOA)"},{"p":"A","g":"Atm","r":10,"t":"a=0.19"},{"p":"A","g":"Atm","r":11,"t":"b=63.67"},{"p":"A","g":"Atm","r":12,"t":"r ²=0.99"},
{"p":"B","g":"TOA","r":1,"t":"TOA"},{"p":"B","g":"TOA","r":2,"t":"a=0.20"},{"p":"B","g":"TOA","r":3,"t":"b=43.85"},{"p":"B","g":"TOA","r":4,"t":"r ²=0.96"},
{"p":"B","g":"BOA","r":5,"t":"BOA"},{"p":"B","g":"BOA","r":6,"t":"a=-0.62"},{"p":"B","g":"BOA","r":7,"t":"b=-37.64"},{"p":"B","g":"BOA","r":8,"t":"r ²=0.97"},
{"p":"B","g":"Atm","r":9,"t":"Atmosphere (TOA-BOA)"},{"p":"B","g":"Atm","r":10,"t":"a=0.82"},{"p":"B","g":"Atm","r":11,"t":"b=81.49"},{"p":"B","g":"Atm","r":12,"t":"r ²=0.990"},
{"p":"C","g":"TOA","r":1,"t":"TOA"},{"p":"C","g":"TOA","r":2,"t":"a=-0.34"},{"p":"C","g":"TOA","r":3,"t":"b=23.79"},{"p":"C","g":"TOA","r":4,"t":"r²=0.68"},
{"p":"C","g":"BOA","r":5,"t":"BOA"},{"p":"C","g":"BOA","r":6,"t":"a=-0.87"},{"p":"C","g":"BOA","r":7,"t":"b=-46.14"},{"p":"C","g":"BOA","r":8,"t":"r²=0.93"},
{"p":"C","g":"Atm","r":9,"t":"Atmosphere (TOA-BOA)"},{"p":"C","g":"Atm","r":10,"t":"a=0.53"},{"p":"C","g":"Atm","r":11,"t":"b=69.93"},{"p":"C","g":"Atm","r":12,"t":"r ²=0.97"}
]
},
"columns":2,
"spacing":{"row":129,"column":6},
"bounds":"flush",
"concat":[
 {"width":502,"height":440,
  "title":{"text":"July-October, 2006-2007 (clear sky conditions)","dx":-16},
  "view":{"stroke":"black","strokeWidth":2},
  "resolve":{"axis":{"x":"independent","y":"independent"}},
  "layer":[
   {"data":{"name":"ptA"},"mark":{"type":"point"},
    "encoding":{
     "x":{"field":"x","type":"quantitative","scale":{"domain":[0,1],"nice":false,"zero":false},"axis":{"orient":"bottom","values":[0,0.2,0.4,0.6,0.8,1],"format":".1f","title":null,"labelPadding":20}},
     "y":{"field":"y","type":"quantitative","scale":{"domain":[-150,100],"nice":false,"zero":false},"axis":{"orient":"left","values":[-150,-100,-50,0,50,100],"labelExpr":"''+datum.value","title":"Atmospheric Radiative Forcing (Wm⁻²)","labelPadding":18,"titlePadding":12}},
     "color":{"field":"g","type":"nominal","scale":{"domain":["TOA","BOA","Atm"],"range":["#000000","#00FFFF","#0000FF"]},"legend":null},
     "shape":{"field":"g","type":"nominal","scale":{"domain":["TOA","BOA","Atm"],"range":["square","circle","circle"]},"legend":null}}},
   {"data":{"name":"ln"},"transform":[{"filter":"datum.p=='A'"}],"mark":{"type":"line","strokeWidth":1.5},
    "encoding":{
     "x":{"field":"x","type":"quantitative","scale":{"domain":[0,1],"nice":false,"zero":false},"axis":{"orient":"top","values":[0,0.2,0.4,0.6,0.8,1],"labels":false,"title":null}},
     "y":{"field":"y","type":"quantitative","scale":{"domain":[-150,100],"nice":false,"zero":false},"axis":{"orient":"right","values":[-150,-100,-50,0,50,100],"labels":false,"title":null}},
     "color":{"field":"g","type":"nominal","scale":{"domain":["TOA","BOA","Atm"],"range":["#000000","#00FFFF","#0000FF"]},"legend":null},
     "strokeDash":{"field":"g","type":"nominal","scale":{"domain":["TOA","BOA","Atm"],"range":[[12,6],[7,4],[1,0]]},"legend":null}}},
   {"data":{"name":"ann"},"transform":[{"filter":"datum.p=='A'"}],"mark":{"type":"text","align":"left","baseline":"middle","fontSize":25,"color":"black"},
    "encoding":{"x":{"field":"x","type":"quantitative","scale":{"domain":[0,1],"nice":false,"zero":false},"axis":null},"y":{"field":"y","type":"quantitative","scale":{"domain":[-150,100],"nice":false,"zero":false},"axis":null},"text":{"field":"t"}}},
   {"data":{"name":"lab"},"transform":[{"filter":"datum.p=='A'"}],"mark":{"type":"text","align":"right","baseline":"middle","fontSize":24,"fontWeight":"bold","color":"black"},
    "encoding":{"x":{"field":"x","type":"quantitative","scale":{"domain":[0,1],"nice":false,"zero":false},"axis":null},"y":{"field":"y","type":"quantitative","scale":{"domain":[-150,100],"nice":false,"zero":false},"axis":null},"text":{"field":"t"}}}
  ]},
 {"width":355,"height":440,
  "layer":[
   {"data":{"name":"box"},"mark":{"type":"rule","strokeWidth":2,"color":"black"},
    "encoding":{"x":{"field":"x1","type":"quantitative","scale":{"domain":[0,1],"nice":false,"zero":false},"axis":null},"x2":{"field":"x2"},"y":{"field":"y1","type":"quantitative","scale":{"domain":[0.2,14.95],"reverse":true,"nice":false,"zero":false},"axis":null},"y2":{"field":"y2"}}},
   {"data":{"name":"lgs"},"mark":{"type":"point","strokeWidth":1.5,"size":45},
    "encoding":{"x":{"datum":0.107,"type":"quantitative","scale":{"domain":[0,1],"nice":false,"zero":false},"axis":null},"y":{"field":"r","type":"quantitative","scale":{"domain":[0.2,14.95],"reverse":true,"nice":false,"zero":false},"axis":null},
     "color":{"field":"g","type":"nominal","scale":{"domain":["TOA","BOA","Atm"],"range":["#000000","#00FFFF","#0000FF"]},"legend":null},
     "shape":{"field":"g","type":"nominal","scale":{"domain":["TOA","BOA","Atm"],"range":["square","circle","circle"]},"legend":null}}},
   {"data":{"name":"lgl"},"mark":{"type":"rule","strokeWidth":1.5},
    "encoding":{"x":{"datum":0.025,"type":"quantitative","scale":{"domain":[0,1],"nice":false,"zero":false},"axis":null},"x2":{"datum":0.175},"y":{"field":"r","type":"quantitative","scale":{"domain":[0.2,14.95],"reverse":true,"nice":false,"zero":false},"axis":null},
     "color":{"field":"g","type":"nominal","scale":{"domain":["TOA","BOA","Atm"],"range":["#000000","#00FFFF","#0000FF"]},"legend":null},
     "strokeDash":{"field":"g","type":"nominal","scale":{"domain":["TOA","BOA","Atm"],"range":[[12,5],[8,4],[1,0]]},"legend":null}}},
   {"data":{"name":"lg"},"transform":[{"filter":"datum.p=='A'"}],"mark":{"type":"text","align":"left","baseline":"middle","fontSize":25,"fontWeight":"bold"},
    "encoding":{"x":{"datum":0.22,"type":"quantitative","scale":{"domain":[0,1],"nice":false,"zero":false},"axis":null},"y":{"field":"r","type":"quantitative","scale":{"domain":[0.2,14.95],"reverse":true,"nice":false,"zero":false},"axis":null},"text":{"field":"t"},
     "color":{"field":"g","type":"nominal","scale":{"domain":["TOA","BOA","Atm"],"range":["#000000","#00FFFF","#0000FF"]},"legend":null}}}
  ]},
 {"width":502,"height":440,
  "title":{"text":"July-October, 2006-2007 (cloudy conditions)","dx":-3},
  "view":{"stroke":"black","strokeWidth":2},
  "resolve":{"axis":{"x":"independent","y":"independent"}},
  "layer":[
   {"data":{"name":"ptB"},"mark":{"type":"point"},
    "encoding":{
     "x":{"field":"x","type":"quantitative","scale":{"domain":[0,1],"nice":false,"zero":false},"axis":{"orient":"bottom","values":[0,0.2,0.4,0.6,0.8,1],"format":".1f","title":null,"labelPadding":20}},
     "y":{"field":"y","type":"quantitative","scale":{"domain":[-100,100],"nice":false,"zero":false},"axis":{"orient":"left","values":[-100,-50,0,50,100],"labelExpr":"''+datum.value","title":"Atmospheric Radiative Forcing (Wm⁻²)","labelPadding":18,"titlePadding":12}},
     "color":{"field":"g","type":"nominal","scale":{"domain":["TOA","BOA","Atm"],"range":["#000000","#00FFFF","#0000FF"]},"legend":null},
     "shape":{"field":"g","type":"nominal","scale":{"domain":["TOA","BOA","Atm"],"range":["square","circle","circle"]},"legend":null}}},
   {"data":{"name":"ln"},"transform":[{"filter":"datum.p=='B'"}],"mark":{"type":"line","strokeWidth":1.5},
    "encoding":{
     "x":{"field":"x","type":"quantitative","scale":{"domain":[0,1],"nice":false,"zero":false},"axis":{"orient":"top","values":[0,0.2,0.4,0.6,0.8,1],"labels":false,"title":null}},
     "y":{"field":"y","type":"quantitative","scale":{"domain":[-100,100],"nice":false,"zero":false},"axis":{"orient":"right","values":[-100,-50,0,50,100],"labels":false,"title":null}},
     "color":{"field":"g","type":"nominal","scale":{"domain":["TOA","BOA","Atm"],"range":["#000000","#00FFFF","#0000FF"]},"legend":null},
     "strokeDash":{"field":"g","type":"nominal","scale":{"domain":["TOA","BOA","Atm"],"range":[[12,6],[7,4],[1,0]]},"legend":null}}},
   {"data":{"name":"ann"},"transform":[{"filter":"datum.p=='B'"}],"mark":{"type":"text","align":"left","baseline":"middle","fontSize":25,"color":"black"},
    "encoding":{"x":{"field":"x","type":"quantitative","scale":{"domain":[0,1],"nice":false,"zero":false},"axis":null},"y":{"field":"y","type":"quantitative","scale":{"domain":[-100,100],"nice":false,"zero":false},"axis":null},"text":{"field":"t"}}},
   {"data":{"name":"lab"},"transform":[{"filter":"datum.p=='B'"}],"mark":{"type":"text","align":"right","baseline":"middle","fontSize":24,"fontWeight":"bold","color":"black"},
    "encoding":{"x":{"field":"x","type":"quantitative","scale":{"domain":[0,1],"nice":false,"zero":false},"axis":null},"y":{"field":"y","type":"quantitative","scale":{"domain":[-100,100],"nice":false,"zero":false},"axis":null},"text":{"field":"t"}}}
  ]},
 {"width":355,"height":440,
  "layer":[
   {"data":{"name":"box"},"mark":{"type":"rule","strokeWidth":2,"color":"black"},
    "encoding":{"x":{"field":"x1","type":"quantitative","scale":{"domain":[0,1],"nice":false,"zero":false},"axis":null},"x2":{"field":"x2"},"y":{"field":"y1","type":"quantitative","scale":{"domain":[0.2,14.95],"reverse":true,"nice":false,"zero":false},"axis":null},"y2":{"field":"y2"}}},
   {"data":{"name":"lgs"},"mark":{"type":"point","strokeWidth":1.5,"size":45},
    "encoding":{"x":{"datum":0.107,"type":"quantitative","scale":{"domain":[0,1],"nice":false,"zero":false},"axis":null},"y":{"field":"r","type":"quantitative","scale":{"domain":[0.2,14.95],"reverse":true,"nice":false,"zero":false},"axis":null},
     "color":{"field":"g","type":"nominal","scale":{"domain":["TOA","BOA","Atm"],"range":["#000000","#00FFFF","#0000FF"]},"legend":null},
     "shape":{"field":"g","type":"nominal","scale":{"domain":["TOA","BOA","Atm"],"range":["square","circle","circle"]},"legend":null}}},
   {"data":{"name":"lgl"},"mark":{"type":"rule","strokeWidth":1.5},
    "encoding":{"x":{"datum":0.025,"type":"quantitative","scale":{"domain":[0,1],"nice":false,"zero":false},"axis":null},"x2":{"datum":0.175},"y":{"field":"r","type":"quantitative","scale":{"domain":[0.2,14.95],"reverse":true,"nice":false,"zero":false},"axis":null},
     "color":{"field":"g","type":"nominal","scale":{"domain":["TOA","BOA","Atm"],"range":["#000000","#00FFFF","#0000FF"]},"legend":null},
     "strokeDash":{"field":"g","type":"nominal","scale":{"domain":["TOA","BOA","Atm"],"range":[[12,5],[8,4],[1,0]]},"legend":null}}},
   {"data":{"name":"lg"},"transform":[{"filter":"datum.p=='B'"}],"mark":{"type":"text","align":"left","baseline":"middle","fontSize":25,"fontWeight":"bold"},
    "encoding":{"x":{"datum":0.22,"type":"quantitative","scale":{"domain":[0,1],"nice":false,"zero":false},"axis":null},"y":{"field":"r","type":"quantitative","scale":{"domain":[0.2,14.95],"reverse":true,"nice":false,"zero":false},"axis":null},"text":{"field":"t"},
     "color":{"field":"g","type":"nominal","scale":{"domain":["TOA","BOA","Atm"],"range":["#000000","#00FFFF","#0000FF"]},"legend":null}}}
  ]},
 {"width":502,"height":440,
  "title":{"text":"July-October, 2006-2007 (all sky conditions)","dx":-3},
  "view":{"stroke":"black","strokeWidth":2},
  "resolve":{"axis":{"x":"independent","y":"independent"}},
  "layer":[
   {"data":{"name":"ptC"},"mark":{"type":"point"},
    "encoding":{
     "x":{"field":"x","type":"quantitative","scale":{"domain":[0,1],"nice":false,"zero":false},"axis":{"orient":"bottom","values":[0,0.2,0.4,0.6,0.8,1],"format":".1f","title":"AOD","labelPadding":20,"titlePadding":17}},
     "y":{"field":"y","type":"quantitative","scale":{"domain":[-110,100],"nice":false,"zero":false},"axis":{"orient":"left","values":[-100,-50,0,50,100],"labelExpr":"''+datum.value","title":"Atmospheric Radiative Forcing (Wm⁻²)","labelPadding":18,"titlePadding":12}},
     "color":{"field":"g","type":"nominal","scale":{"domain":["TOA","BOA","Atm"],"range":["#000000","#00FFFF","#0000FF"]},"legend":null},
     "shape":{"field":"g","type":"nominal","scale":{"domain":["TOA","BOA","Atm"],"range":["square","circle","circle"]},"legend":null}}},
   {"data":{"name":"ln"},"transform":[{"filter":"datum.p=='C'"}],"mark":{"type":"line","strokeWidth":1.5},
    "encoding":{
     "x":{"field":"x","type":"quantitative","scale":{"domain":[0,1],"nice":false,"zero":false},"axis":{"orient":"top","values":[0,0.2,0.4,0.6,0.8,1],"labels":false,"title":null}},
     "y":{"field":"y","type":"quantitative","scale":{"domain":[-110,100],"nice":false,"zero":false},"axis":{"orient":"right","values":[-100,-50,0,50,100],"labels":false,"title":null}},
     "color":{"field":"g","type":"nominal","scale":{"domain":["TOA","BOA","Atm"],"range":["#000000","#00FFFF","#0000FF"]},"legend":null},
     "strokeDash":{"field":"g","type":"nominal","scale":{"domain":["TOA","BOA","Atm"],"range":[[12,6],[7,4],[1,0]]},"legend":null}}},
   {"data":{"name":"ann"},"transform":[{"filter":"datum.p=='C'"}],"mark":{"type":"text","align":"left","baseline":"middle","fontSize":25,"color":"black"},
    "encoding":{"x":{"field":"x","type":"quantitative","scale":{"domain":[0,1],"nice":false,"zero":false},"axis":null},"y":{"field":"y","type":"quantitative","scale":{"domain":[-110,100],"nice":false,"zero":false},"axis":null},"text":{"field":"t"}}},
   {"data":{"name":"lab"},"transform":[{"filter":"datum.p=='C'"}],"mark":{"type":"text","align":"right","baseline":"middle","fontSize":24,"fontWeight":"bold","color":"black"},
    "encoding":{"x":{"field":"x","type":"quantitative","scale":{"domain":[0,1],"nice":false,"zero":false},"axis":null},"y":{"field":"y","type":"quantitative","scale":{"domain":[-110,100],"nice":false,"zero":false},"axis":null},"text":{"field":"t"}}},
   {"data":{"name":"eqm"},"mark":{"type":"text","align":"left","baseline":"middle","font":"Liberation Sans","fontSize":19,"fontWeight":"bold","color":"black"},
    "encoding":{"x":{"field":"x","type":"quantitative","scale":{"domain":[0,1],"nice":false,"zero":false},"axis":null},"y":{"field":"y","type":"quantitative","scale":{"domain":[-110,100],"nice":false,"zero":false},"axis":null},"text":{"field":"t"}}},
   {"data":{"name":"eqs"},"mark":{"type":"text","align":"left","baseline":"middle","font":"Liberation Sans","fontSize":12,"fontWeight":"bold","color":"black","dy":5},
    "encoding":{"x":{"field":"x","type":"quantitative","scale":{"domain":[0,1],"nice":false,"zero":false},"axis":null},"y":{"field":"y","type":"quantitative","scale":{"domain":[-110,100],"nice":false,"zero":false},"axis":null},"text":{"field":"t"}}}
  ]},
 {"width":355,"height":440,
  "layer":[
   {"data":{"name":"box"},"mark":{"type":"rule","strokeWidth":2,"color":"black"},
    "encoding":{"x":{"field":"x1","type":"quantitative","scale":{"domain":[0,1],"nice":false,"zero":false},"axis":null},"x2":{"field":"x2"},"y":{"field":"y1","type":"quantitative","scale":{"domain":[0.2,14.95],"reverse":true,"nice":false,"zero":false},"axis":null},"y2":{"field":"y2"}}},
   {"data":{"name":"lgs"},"mark":{"type":"point","strokeWidth":1.5,"size":45},
    "encoding":{"x":{"datum":0.107,"type":"quantitative","scale":{"domain":[0,1],"nice":false,"zero":false},"axis":null},"y":{"field":"r","type":"quantitative","scale":{"domain":[0.2,14.95],"reverse":true,"nice":false,"zero":false},"axis":null},
     "color":{"field":"g","type":"nominal","scale":{"domain":["TOA","BOA","Atm"],"range":["#000000","#00FFFF","#0000FF"]},"legend":null},
     "shape":{"field":"g","type":"nominal","scale":{"domain":["TOA","BOA","Atm"],"range":["square","circle","circle"]},"legend":null}}},
   {"data":{"name":"lgl"},"mark":{"type":"rule","strokeWidth":1.5},
    "encoding":{"x":{"datum":0.025,"type":"quantitative","scale":{"domain":[0,1],"nice":false,"zero":false},"axis":null},"x2":{"datum":0.175},"y":{"field":"r","type":"quantitative","scale":{"domain":[0.2,14.95],"reverse":true,"nice":false,"zero":false},"axis":null},
     "color":{"field":"g","type":"nominal","scale":{"domain":["TOA","BOA","Atm"],"range":["#000000","#00FFFF","#0000FF"]},"legend":null},
     "strokeDash":{"field":"g","type":"nominal","scale":{"domain":["TOA","BOA","Atm"],"range":[[12,5],[8,4],[1,0]]},"legend":null}}},
   {"data":{"name":"lg"},"transform":[{"filter":"datum.p=='C' && (datum.r<6 || datum.r>8)"}],"mark":{"type":"text","align":"left","baseline":"middle","fontSize":25,"fontWeight":"bold"},
    "encoding":{"x":{"datum":0.22,"type":"quantitative","scale":{"domain":[0,1],"nice":false,"zero":false},"axis":null},"y":{"field":"r","type":"quantitative","scale":{"domain":[0.2,14.95],"reverse":true,"nice":false,"zero":false},"axis":null},"text":{"field":"t"},
     "color":{"field":"g","type":"nominal","scale":{"domain":["TOA","BOA","Atm"],"range":["#000000","#00FFFF","#0000FF"]},"legend":null}}},
   {"data":{"name":"lg"},"transform":[{"filter":"datum.p=='C' && datum.r>=6 && datum.r<=8"}],"mark":{"type":"text","align":"left","baseline":"middle","font":"Liberation Sans","fontSize":24,"fontWeight":"bold"},
    "encoding":{"x":{"datum":0.225,"type":"quantitative","scale":{"domain":[0,1],"nice":false,"zero":false},"axis":null},"y":{"field":"r","type":"quantitative","scale":{"domain":[0.2,14.95],"reverse":true,"nice":false,"zero":false},"axis":null},"text":{"field":"t"},
     "color":{"field":"g","type":"nominal","scale":{"domain":["TOA","BOA","Atm"],"range":["#000000","#00FFFF","#0000FF"]},"legend":null}}}
  ]}
]
}
